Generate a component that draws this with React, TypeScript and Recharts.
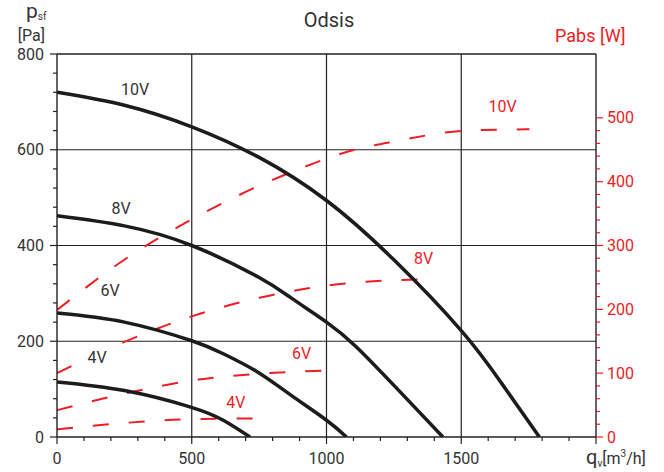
import {
  ComposedChart,
  Line,
  ReferenceDot,
  ReferenceLine,
  XAxis,
  YAxis,
} from "recharts";

// Fan curves: static pressure p_sf [Pa] against air flow q_v [m3/h]
const PRESSURE_10V = [
  { q: 0, p: 720 },
  { q: 250, p: 693 },
  { q: 500, p: 648 },
  { q: 750, p: 584 },
  { q: 1000, p: 494 },
  { q: 1250, p: 370 },
  { q: 1500, p: 222 },
  { q: 1650, p: 112 },
  { q: 1790, p: 0 },
];
const PRESSURE_8V = [
  { q: 0, p: 462 },
  { q: 250, p: 441 },
  { q: 500, p: 400 },
  { q: 750, p: 333 },
  { q: 870, p: 290 },
  { q: 1000, p: 240 },
  { q: 1111, p: 188 },
  { q: 1260, p: 102 },
  { q: 1432, p: 0 },
];
const PRESSURE_6V = [
  { q: 0, p: 259 },
  { q: 250, p: 240 },
  { q: 500, p: 201 },
  { q: 617, p: 174 },
  { q: 741, p: 137 },
  { q: 864, p: 89 },
  { q: 1000, p: 35 },
  { q: 1074, p: 0 },
];
const PRESSURE_4V = [
  { q: 0, p: 115 },
  { q: 250, p: 97 },
  { q: 493, p: 63 },
  { q: 617, p: 35 },
  { q: 716, p: 0 },
];

// Absorbed power Pabs [W] (right axis)
const POWER_10V = [
  { q: 0, w: 199 },
  { q: 265, w: 282 },
  { q: 500, w: 341 },
  { q: 864, w: 414 },
  { q: 1105, w: 450 },
  { q: 1253, w: 463 },
  { q: 1518, w: 480 },
  { q: 1753, w: 482 },
];
const POWER_8V = [
  { q: 0, w: 100 },
  { q: 250, w: 149 },
  { q: 500, w: 189 },
  { q: 750, w: 218 },
  { q: 1080, w: 241 },
  { q: 1222, w: 245 },
  { q: 1358, w: 247 },
];
const POWER_6V = [
  { q: 0, w: 42 },
  { q: 250, w: 68 },
  { q: 525, w: 90 },
  { q: 750, w: 99 },
  { q: 994, w: 104 },
];
const POWER_4V = [
  { q: 0, w: 12 },
  { q: 250, w: 22 },
  { q: 463, w: 27.5 },
  { q: 734, w: 29 },
];

const PRESSURE_CURVES = [PRESSURE_10V, PRESSURE_8V, PRESSURE_6V, PRESSURE_4V];
const POWER_CURVES = [POWER_10V, POWER_8V, POWER_6V, POWER_4V];

// Tick values (minor + major)
const FLOW_TICKS = Array.from({ length: 21 }, (_, i) => i * 100);
const PRESSURE_TICKS = Array.from({ length: 21 }, (_, i) => i * 40);
const POWER_TICKS = Array.from({ length: 26 }, (_, i) => i * 20);
const FLOW_GRID = [500, 1000, 1500];
const PRESSURE_GRID = [200, 400, 600];

// Curve labels, anchored in data coordinates
const PRESSURE_LABELS = [
  { text: "10V", q: 290, v: 725 },
  { text: "8V", q: 238, v: 478 },
  { text: "6V", q: 197, v: 305 },
  { text: "4V", q: 149, v: 167 },
];
const POWER_LABELS = [
  { text: "10V", q: 1653, v: 517 },
  { text: "8V", q: 1360, v: 279 },
  { text: "6V", q: 908, v: 131 },
  { text: "4V", q: 664, v: 54 },
];

const W = 664;
const H = 472;
const INK = "#222";
const TEXT = "#333";
const RED = "#ee1c25";
const FONT = "Roboto, 'Liberation Sans', sans-serif";

const LeftTick = ({ x, y, payload }: any) => {
  const major = payload.value % 200 === 0;
  return (
    <g>
      <line x1={x} x2={x - (major ? 7 : 4)} y1={y} y2={y} stroke={INK} strokeWidth={1.2} />
      {major && (
        <text x={x - 13} y={y} textAnchor="end" dominantBaseline="central" fontSize={16} fill={TEXT} fontFamily={FONT}>
          {payload.value}
        </text>
      )}
    </g>
  );
};

const RightTick = ({ x, y, payload }: any) => {
  const major = payload.value % 100 === 0;
  return (
    <g>
      <line x1={x} x2={x + (major ? 7 : 4)} y1={y} y2={y} stroke={RED} strokeWidth={1.2} />
      {major && (
        <text x={x + 11} y={y} textAnchor="start" dominantBaseline="central" fontSize={16} fill={RED} fontFamily={FONT}>
          {payload.value}
        </text>
      )}
    </g>
  );
};

const BottomTick = ({ x, y, payload }: any) => {
  const major = payload.value % 500 === 0;
  return (
    <g>
      <line x1={x} x2={x} y1={y} y2={y + (major ? 7 : 4)} stroke={INK} strokeWidth={1.2} />
      {major && payload.value < 2000 && (
        <text x={x} y={y + 21} textAnchor="middle" dominantBaseline="central" fontSize={16} fill={TEXT} fontFamily={FONT}>
          {payload.value}
        </text>
      )}
    </g>
  );
};

const makeLabel = (text: string, color: string) => ({ cx, cy }: any) => {
  const w = text.length * 9 + 2;
  return (
    <g>
      <rect x={cx - w / 2} y={cy - 8} width={w} height={16} fill="#fff" />
      <text x={cx} y={cy} textAnchor="middle" dominantBaseline="central" fontSize={16} fill={color} fontFamily={FONT}>
        {text}
      </text>
    </g>
  );
};

export default function App() {
  return (
    <div style={{ position: "absolute", left: 0, top: 0, width: W, height: H, background: "#fff" }}>
      <ComposedChart
        width={W}
        height={H}
        margin={{ top: 54, right: 18, bottom: 5, left: 12 }}
      >
        <XAxis
          type="number"
          dataKey="q"
          domain={[0, 2000]}
          ticks={FLOW_TICKS}
          interval={0}
          height={30}
          tickSize={0}
          tickMargin={0}
          tickLine={false}
          axisLine={{ stroke: INK, strokeWidth: 1.4 }}
          tick={<BottomTick />}
          allowDataOverflow
        />
        <YAxis
          yAxisId="p"
          type="number"
          domain={[0, 800]}
          ticks={PRESSURE_TICKS}
          interval={0}
          width={45}
          tickSize={0}
          tickMargin={0}
          tickLine={false}
          axisLine={{ stroke: INK, strokeWidth: 1.4 }}
          tick={<LeftTick />}
          allowDataOverflow
        />
        <YAxis
          yAxisId="w"
          orientation="right"
          type="number"
          domain={[0, 600]}
          ticks={POWER_TICKS}
          interval={0}
          width={50}
          tickSize={0}
          tickMargin={0}
          tickLine={false}
          axisLine={{ stroke: INK, strokeWidth: 1.4 }}
          tick={<RightTick />}
          allowDataOverflow
        />
        {FLOW_GRID.map((q) => (
          <ReferenceLine key={`gx${q}`} x={q} yAxisId="p" stroke={INK} strokeWidth={1.2} />
        ))}
        {PRESSURE_GRID.map((p) => (
          <ReferenceLine key={`gy${p}`} y={p} yAxisId="p" stroke={INK} strokeWidth={1.2} />
        ))}
        <ReferenceLine y={800} yAxisId="p" stroke={INK} strokeWidth={1.4} />
        {POWER_CURVES.map((d, i) => (
          <Line
            key={`w${i}`}
            yAxisId="w"
            data={d}
            dataKey="w"
            type="monotone"
            stroke={RED}
            strokeWidth={2}
            strokeDasharray="16 20"
            dot={false}
            isAnimationActive={false}
          />
        ))}
        {PRESSURE_CURVES.map((d, i) => (
          <Line
            key={`p${i}`}
            yAxisId="p"
            data={d}
            dataKey="p"
            type="natural"
            stroke="#1c1c1c"
            strokeWidth={3.5}
            dot={false}
            isAnimationActive={false}
          />
        ))}
        {PRESSURE_LABELS.map((l) => (
          <ReferenceDot key={`lp${l.text}`} yAxisId="p" x={l.q} y={l.v} r={0} shape={makeLabel(l.text, TEXT)} />
        ))}
        {POWER_LABELS.map((l) => (
          <ReferenceDot key={`lw${l.text}`} yAxisId="w" x={l.q} y={l.v} r={0} shape={makeLabel(l.text, RED)} />
        ))}
      </ComposedChart>
      <svg
        width={W}
        height={H}
        style={{ position: "absolute", left: 0, top: 0, pointerEvents: "none" }}
        fontFamily={FONT}
      >
        <text x={329} y={27} textAnchor="middle" fontSize={20} fill={TEXT}>
          Odsis
        </text>
        <text x={26} y={18} fontSize={21} fill={TEXT}>
          p<tspan fontSize={10} dy={2}>sf</tspan>
        </text>
        <text x={45} y={41} textAnchor="end" fontSize={16} fill={TEXT}>
          [Pa]
        </text>
        <text x={555} y={42} fontSize={18} fill={RED}>
          Pabs [W]
        </text>
        <text x={586} y={464} fontSize={20} fill={TEXT}>
          q<tspan fontSize={10} dy={3}>v</tspan>
          <tspan fontSize={16} dy={-3}>[m</tspan>
          <tspan fontSize={10} dy={-7}>3</tspan>
          <tspan fontSize={16} dy={7}>/h]</tspan>
        </text>
      </svg>
    </div>
  );
}
